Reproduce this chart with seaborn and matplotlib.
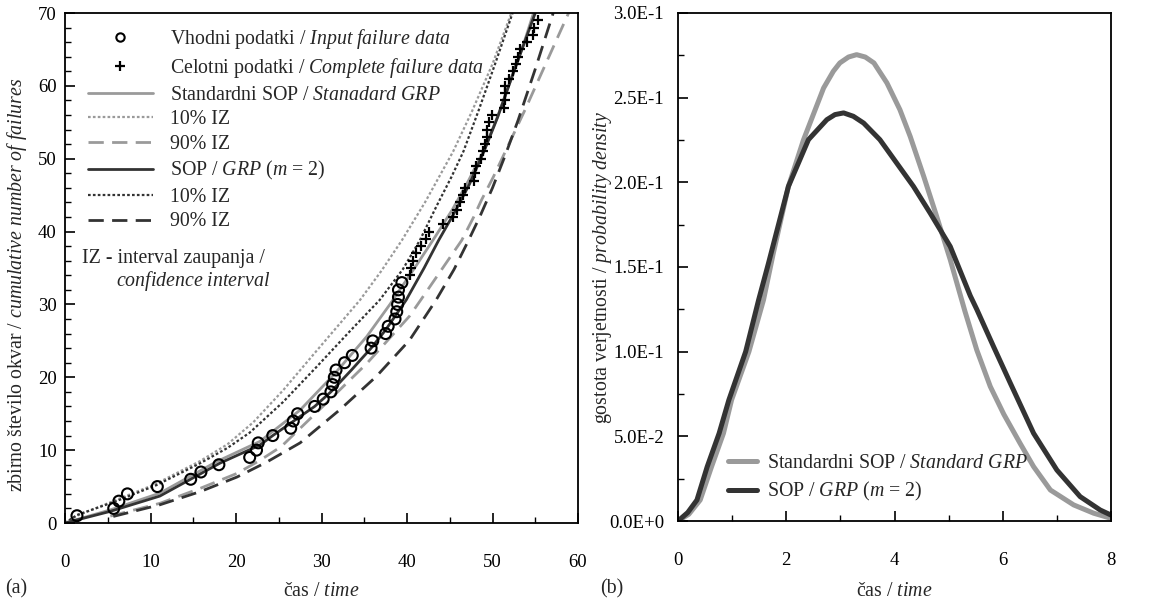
import numpy as np
import pandas as pd
import matplotlib
matplotlib.use("Agg")
import matplotlib.pyplot as plt
from matplotlib.lines import Line2D
from matplotlib.ticker import MultipleLocator, FuncFormatter
import seaborn as sns

sns.set_theme(style="white")
plt.rcParams['font.family'] = ['Liberation Serif', 'DejaVu Serif']
plt.rcParams['mathtext.fontset'] = 'custom'
plt.rcParams['mathtext.rm'] = 'Liberation Serif'
plt.rcParams['mathtext.it'] = 'Liberation Serif:italic'
plt.rcParams['font.size'] = 13

# ---------------- data (a) ----------------
input_x = [1.4, 5.7, 6.3, 7.3, 10.8, 14.7, 15.9, 18.0, 21.6, 22.4, 22.6, 24.3, 26.4, 26.7,
           27.2, 29.2, 30.2, 31.1, 31.3, 31.5, 31.7, 32.7, 33.6, 35.8, 36.0, 37.5, 37.8,
           38.6, 38.8, 38.9, 39.0, 39.0, 39.4]
input_y = list(range(1, 34))

complete_x = [40.35, 40.5, 40.7, 41.1, 41.6, 42.2, 42.6, 44.2, 45.4, 45.8, 46.2, 46.6, 46.8,
              47.8, 47.95, 48.1, 48.6, 48.85, 49.1, 49.3, 49.4, 49.6, 49.9, 51.3, 51.5, 51.5,
              51.5, 51.9, 52.4, 52.75, 53.0, 53.2, 54.0, 54.7, 54.8, 55.3]
complete_y = list(range(34, 70))

std_x = [0, 5.3, 11.1, 17.7, 22.8, 27.5, 31.4, 35.3, 38.0, 41.0, 43.3, 45.3, 47.2, 49.0,
         50.6, 52.2, 53.6, 54.8]
std_y = [0, 1.8, 4.1, 8.4, 11.2, 15.5, 20.3, 25.6, 30.0, 35.2, 39.3, 43.0, 47.0, 51.2,
         55.8, 61.0, 65.6, 70]
std10_x = [0, 1.4, 5, 10.5, 15.8, 19, 22, 25.5, 29.4, 34.5, 37.0, 39.4, 42.1, 45.4, 47.6,
           50, 52.2]
std10_y = [0, 1.0, 2.7, 5.3, 8.5, 10.8, 13.8, 18.2, 23.6, 30.6, 34.6, 38.8, 44.0, 51.0, 56.5,
           63, 70]
std90_x = [5.3, 11.1, 15.8, 20.1, 22.8, 25.3, 30.6, 35.3, 40.3, 41.6, 46.4, 47.8, 48.7, 50.1,
           53.8, 58.9]
std90_y = [0.95, 2.7, 4.75, 6.8, 8.6, 10.5, 16.5, 21.9, 28.4, 30.6, 38.8, 42.0, 44.3, 47.5,
           56.7, 70]

grp_x = [0, 5.3, 11.1, 18.1, 22.8, 24.3, 29.2, 31.1, 33.5, 35.8, 37.5, 39.9, 42.0, 43.7,
         45.5, 47.3, 49.0, 50.6, 52.2, 53.6, 55.0]
grp_y = [0, 1.6, 3.7, 8.2, 10.7, 12, 16, 18, 21, 24, 26.5, 30.6, 35.0, 38.8, 42.5, 46.5,
         51.0, 55.7, 61.0, 65.5, 70]
grp10_x = [0, 1.4, 6, 10.7, 15.8, 19.0, 21.6, 25.5, 29.4, 33.3, 36.8, 39.5, 41.5, 43.5, 45.2,
           46.6, 48.4, 50.3, 52.35]
grp10_y = [0, 1.1, 3.0, 5.2, 8.2, 10.3, 12.4, 16.6, 21.4, 26.3, 30.6, 34.8, 38.8, 43.6, 47.5,
           51.0, 56.7, 63.0, 70]
grp90_x = [5.65, 11.1, 15.8, 20.1, 23.5, 27.5, 32.2, 36.4, 40.3, 43.4, 45.5, 47.2, 48.5, 50.0,
           51.5, 53.0, 55.0, 57.1]
grp90_y = [0.9, 2.5, 4.3, 6.3, 8.3, 11.0, 15.6, 20.1, 25.1, 30.6, 34.8, 38.8, 42.0, 46.0,
           50.5, 55.3, 62.3, 70]

# ---------------- data (b) ----------------
pdf_std_x = [0, 0.20, 0.41, 0.62, 0.84, 0.99, 1.31, 1.58, 1.76, 2.04, 2.32, 2.69, 2.87, 2.99,
             3.15, 3.30, 3.46, 3.62, 3.86, 4.10, 4.29, 4.54, 4.78, 5.03, 5.30, 5.52, 5.77,
             6.02, 6.32, 6.57, 6.88, 7.31, 7.68, 8.0]
pdf_std_y = [0, 0.0040, 0.0124, 0.0321, 0.0518, 0.0715, 0.1000, 0.1306, 0.1580, 0.1976,
             0.2252, 0.2557, 0.2656, 0.2705, 0.2740, 0.2754, 0.2740, 0.2705, 0.2587, 0.2429,
             0.2271, 0.2035, 0.1798, 0.1543, 0.1240, 0.1010, 0.0794, 0.0630, 0.0459, 0.0321,
             0.0183, 0.0095, 0.0046, 0.0016]
pdf_grp_x = [0, 0.18, 0.35, 0.54, 0.76, 0.94, 1.25, 1.49, 1.67, 2.04, 2.41, 2.75, 2.90, 3.06,
             3.24, 3.43, 3.73, 4.04, 4.35, 4.66, 5.03, 5.40, 5.52, 5.83, 6.14, 6.57, 7.0, 7.43,
             7.80, 8.0]
pdf_grp_y = [0, 0.0050, 0.0124, 0.0321, 0.0518, 0.0715, 0.1000, 0.1306, 0.1520, 0.1976,
             0.2252, 0.2370, 0.2400, 0.2410, 0.2390, 0.2350, 0.2252, 0.2114, 0.1976, 0.1818,
             0.1621, 0.1330, 0.1250, 0.1030, 0.0814, 0.0518, 0.0301, 0.0144, 0.0065, 0.0035]

LIGHT = "#9a9a9a"
DARK = "#333333"
FS = 14.3

W, H = 1157, 601
fig = plt.figure(figsize=(W / 100, H / 100), dpi=100)
axA = fig.add_axes([65 / W, 1 - 523 / H, (578 - 65) / W, (523 - 13) / H])
axB = fig.add_axes([678 / W, 1 - 521 / H, (1111 - 678) / W, (521 - 13) / H])


def line(ax, x, y, color, ls, lw):
    sns.lineplot(x=x, y=y, ax=ax, color=color, linestyle=ls, linewidth=lw,
                 sort=False, estimator=None, errorbar=None)


# ---- panel (a)
dot = (0, (1.2, 1.0))
dash = (0, (5.5, 3.0))
line(axA, std10_x, std10_y, LIGHT, dot, 1.6)
line(axA, grp10_x, grp10_y, DARK, dot, 1.6)
line(axA, std_x, std_y, LIGHT, "-", 2.0)
line(axA, grp_x, grp_y, DARK, "-", 2.0)
line(axA, std90_x, std90_y, LIGHT, dash, 2.0)
line(axA, grp90_x, grp90_y, DARK, dash, 2.0)

sns.scatterplot(x=input_x, y=input_y, ax=axA, marker="o", s=62, facecolor="none",
                edgecolor="black", linewidth=1.5, zorder=5)
sns.scatterplot(x=complete_x, y=complete_y, ax=axA, marker="+", s=60, color="black",
                linewidth=1.6, zorder=5)

axA.set_xlim(0, 60)
axA.set_ylim(0, 70)
axA.xaxis.set_major_locator(MultipleLocator(10))
axA.xaxis.set_minor_locator(MultipleLocator(5))
axA.yaxis.set_major_locator(MultipleLocator(10))
axA.yaxis.set_minor_locator(MultipleLocator(2))

handles = [
    Line2D([], [], marker="o", ls="", mfc="none", mec="black", mew=1.5, ms=6),
    Line2D([], [], marker="+", ls="", color="black", mew=1.6, ms=7),
    Line2D([], [], color=LIGHT, lw=2.0),
    Line2D([], [], color=LIGHT, lw=1.6, ls=dot),
    Line2D([], [], color=LIGHT, lw=2.0, ls=dash),
    Line2D([], [], color=DARK, lw=2.0),
    Line2D([], [], color=DARK, lw=1.6, ls=dot),
    Line2D([], [], color=DARK, lw=2.0, ls=dash),
]
labels = [
    r"Vhodni podatki / $\mathit{Input\ failure\ data}$",
    r"Celotni podatki / $\mathit{Complete\ failure\ data}$",
    r"Standardni SOP / $\mathit{Stanadard\ GRP}$",
    "10% IZ",
    "90% IZ",
    r"SOP / $\mathit{GRP}$ ($\mathit{m}$ = 2)",
    "10% IZ",
    "90% IZ",
]
axA.legend(handles, labels, loc="center left", bbox_to_anchor=(23 / 513, (523 - 129) / 510),
           frameon=False, borderpad=0, borderaxespad=0,
           handlelength=3.27, handletextpad=0.85, labelspacing=0.28, fontsize=FS)
axA.text(17 / 513, 1 - (258 - 13) / 510, "IZ - interval zaupanja /", transform=axA.transAxes,
         fontsize=FS, va="center", ha="left")
axA.text(51 / 513, 1 - (281 - 13) / 510, r"$\mathit{confidence\ interval}$",
         transform=axA.transAxes, fontsize=FS, va="center", ha="left")

axA.set_ylabel(r"zbirno število okvar / $\mathit{cumulative\ number\ of\ failures}$",
               fontsize=FS)
axA.set_xlabel(r"čas / $\mathit{time}$", fontsize=FS)

# ---- panel (b)
line(axB, pdf_std_x, pdf_std_y, LIGHT, "-", 3.6)
line(axB, pdf_grp_x, pdf_grp_y, DARK, "-", 3.6)
axB.set_xlim(0, 8)
axB.set_ylim(0, 0.3)
axB.xaxis.set_major_locator(MultipleLocator(2))
axB.xaxis.set_minor_locator(MultipleLocator(1))
axB.yaxis.set_major_locator(MultipleLocator(0.05))
axB.yaxis.set_minor_locator(MultipleLocator(0.025))


def efmt(v, pos):
    if abs(v) < 1e-12:
        return "0.0E+0"
    e = int(np.floor(np.log10(abs(v)) + 1e-9))
    m = v / 10 ** e
    return f"{m:.1f}E{e:+d}" if e >= 0 else f"{m:.1f}E{e}"


axB.yaxis.set_major_formatter(FuncFormatter(efmt))
hB = [Line2D([], [], color=LIGHT, lw=3.6), Line2D([], [], color=DARK, lw=3.6)]
lB = [r"Standardni SOP / $\mathit{Standard\ GRP}$", r"SOP / $\mathit{GRP}$ ($\mathit{m}$ = 2)"]
axB.legend(hB, lB, loc="center left", bbox_to_anchor=(50 / 433, (521 - 478.5) / 508),
           frameon=False, borderpad=0, borderaxespad=0,
           handlelength=1.45, handletextpad=0.5, labelspacing=0.36, fontsize=FS)
axB.set_ylabel(r"gostota verjetnosti / $\mathit{probability\ density}$", fontsize=FS)
axB.set_xlabel(r"čas / $\mathit{time}$", fontsize=FS)

for ax in (axA, axB):
    for s in ax.spines.values():
        s.set_color("black")
        s.set_linewidth(1.3)
    ax.tick_params(which="both", direction="in", colors="black", labelcolor="black",
                   top=False, right=False, left=True, bottom=True, labelsize=13.5)
    ax.tick_params(which="major", length=7, width=1.2)
    ax.tick_params(which="minor", length=4, width=1.0)
    ax.tick_params(axis="x", which="major", pad=22)
    ax.grid(False)

axA.tick_params(axis="y", which="major", pad=6)
axB.tick_params(axis="y", which="major", pad=10)
axA.xaxis.set_label_coords(0.5, -0.115)
axB.xaxis.set_label_coords(0.5, -0.12)
axA.yaxis.set_label_coords((29 - 65) / 513, (523 - 285) / 510)
axB.yaxis.set_label_coords((614 - 678) / 433, 0.5)

fig.text(5 / W, 1 - 589 / H, "(a)", fontsize=FS, va="center", ha="left")
fig.text(600 / W, 1 - 589 / H, "(b)", fontsize=FS, va="center", ha="left")

fig.savefig("out.png", dpi=100, facecolor="white")
